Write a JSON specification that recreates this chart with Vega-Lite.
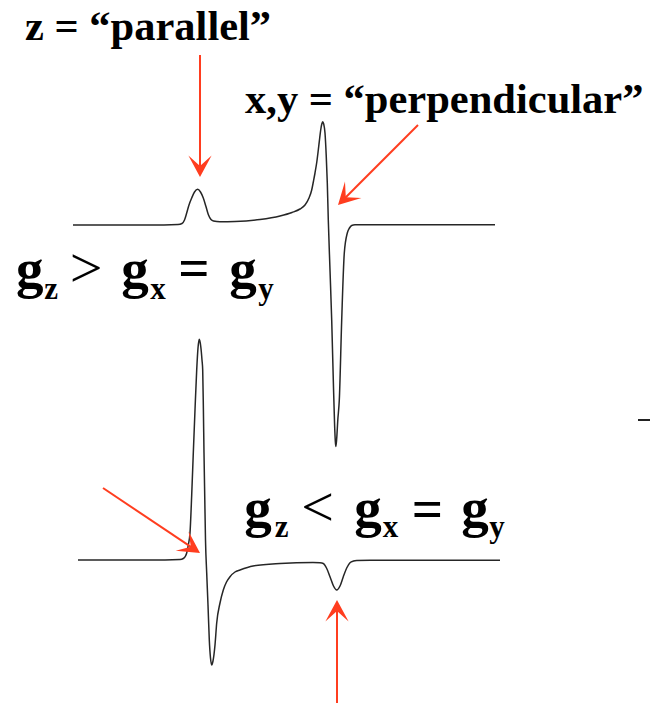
{
  "$schema": "https://vega.github.io/schema/vega-lite/v6.json",
  "width": 650,
  "height": 703,
  "autosize": {"type": "none"},
  "padding": 0,
  "background": "white",
  "config": {"view": {"stroke": null}},
  "datasets": {
    "spectra": [
      {"trace": "gz > gx = gy", "x": 73, "y": 225},
      {"trace": "gz > gx = gy", "x": 150, "y": 225},
      {"trace": "gz > gx = gy", "x": 178, "y": 224.5},
      {"trace": "gz > gx = gy", "x": 182, "y": 223.5},
      {"trace": "gz > gx = gy", "x": 184.5, "y": 220},
      {"trace": "gz > gx = gy", "x": 186.7, "y": 213},
      {"trace": "gz > gx = gy", "x": 189, "y": 205},
      {"trace": "gz > gx = gy", "x": 191.7, "y": 198},
      {"trace": "gz > gx = gy", "x": 194.5, "y": 192},
      {"trace": "gz > gx = gy", "x": 197.7, "y": 189.3},
      {"trace": "gz > gx = gy", "x": 200.5, "y": 192},
      {"trace": "gz > gx = gy", "x": 203.3, "y": 198},
      {"trace": "gz > gx = gy", "x": 205.8, "y": 206},
      {"trace": "gz > gx = gy", "x": 208.3, "y": 214.5},
      {"trace": "gz > gx = gy", "x": 211, "y": 219.5},
      {"trace": "gz > gx = gy", "x": 213.5, "y": 221},
      {"trace": "gz > gx = gy", "x": 220, "y": 221.8},
      {"trace": "gz > gx = gy", "x": 235, "y": 221.5},
      {"trace": "gz > gx = gy", "x": 260, "y": 219.5},
      {"trace": "gz > gx = gy", "x": 280, "y": 216},
      {"trace": "gz > gx = gy", "x": 292, "y": 212.5},
      {"trace": "gz > gx = gy", "x": 300, "y": 209},
      {"trace": "gz > gx = gy", "x": 305, "y": 205},
      {"trace": "gz > gx = gy", "x": 309, "y": 198},
      {"trace": "gz > gx = gy", "x": 311.7, "y": 190},
      {"trace": "gz > gx = gy", "x": 313.5, "y": 181},
      {"trace": "gz > gx = gy", "x": 315, "y": 173},
      {"trace": "gz > gx = gy", "x": 316.8, "y": 162},
      {"trace": "gz > gx = gy", "x": 318.3, "y": 150},
      {"trace": "gz > gx = gy", "x": 319.7, "y": 138},
      {"trace": "gz > gx = gy", "x": 320.7, "y": 130},
      {"trace": "gz > gx = gy", "x": 321.8, "y": 124},
      {"trace": "gz > gx = gy", "x": 322.7, "y": 121.7},
      {"trace": "gz > gx = gy", "x": 323.7, "y": 124},
      {"trace": "gz > gx = gy", "x": 325, "y": 133},
      {"trace": "gz > gx = gy", "x": 326.2, "y": 155},
      {"trace": "gz > gx = gy", "x": 327.3, "y": 183},
      {"trace": "gz > gx = gy", "x": 328.3, "y": 220},
      {"trace": "gz > gx = gy", "x": 330, "y": 270},
      {"trace": "gz > gx = gy", "x": 331.7, "y": 320},
      {"trace": "gz > gx = gy", "x": 333.3, "y": 380},
      {"trace": "gz > gx = gy", "x": 334.6, "y": 425},
      {"trace": "gz > gx = gy", "x": 335.3, "y": 441},
      {"trace": "gz > gx = gy", "x": 335.8, "y": 446.5},
      {"trace": "gz > gx = gy", "x": 336.6, "y": 440},
      {"trace": "gz > gx = gy", "x": 337.8, "y": 420},
      {"trace": "gz > gx = gy", "x": 339.3, "y": 400},
      {"trace": "gz > gx = gy", "x": 341.7, "y": 320},
      {"trace": "gz > gx = gy", "x": 344.3, "y": 253},
      {"trace": "gz > gx = gy", "x": 347.3, "y": 233},
      {"trace": "gz > gx = gy", "x": 349.5, "y": 228},
      {"trace": "gz > gx = gy", "x": 351.7, "y": 225.5},
      {"trace": "gz > gx = gy", "x": 355, "y": 224.8},
      {"trace": "gz > gx = gy", "x": 365, "y": 224.7},
      {"trace": "gz > gx = gy", "x": 495, "y": 224.7},
      {"trace": "gz < gx = gy", "x": 78, "y": 560},
      {"trace": "gz < gx = gy", "x": 150, "y": 560},
      {"trace": "gz < gx = gy", "x": 180, "y": 559.5},
      {"trace": "gz < gx = gy", "x": 183.3, "y": 558.5},
      {"trace": "gz < gx = gy", "x": 185.5, "y": 556},
      {"trace": "gz < gx = gy", "x": 186.7, "y": 553},
      {"trace": "gz < gx = gy", "x": 188.3, "y": 545},
      {"trace": "gz < gx = gy", "x": 190, "y": 533},
      {"trace": "gz < gx = gy", "x": 191.7, "y": 495},
      {"trace": "gz < gx = gy", "x": 193.3, "y": 453},
      {"trace": "gz < gx = gy", "x": 195, "y": 410},
      {"trace": "gz < gx = gy", "x": 196.7, "y": 370},
      {"trace": "gz < gx = gy", "x": 198, "y": 348},
      {"trace": "gz < gx = gy", "x": 199.3, "y": 339.3},
      {"trace": "gz < gx = gy", "x": 200.7, "y": 346},
      {"trace": "gz < gx = gy", "x": 202, "y": 360},
      {"trace": "gz < gx = gy", "x": 202.7, "y": 370},
      {"trace": "gz < gx = gy", "x": 203.4, "y": 410},
      {"trace": "gz < gx = gy", "x": 204, "y": 453},
      {"trace": "gz < gx = gy", "x": 204.8, "y": 500},
      {"trace": "gz < gx = gy", "x": 205.5, "y": 540},
      {"trace": "gz < gx = gy", "x": 206.7, "y": 573},
      {"trace": "gz < gx = gy", "x": 208, "y": 605},
      {"trace": "gz < gx = gy", "x": 209.3, "y": 640},
      {"trace": "gz < gx = gy", "x": 210.5, "y": 658},
      {"trace": "gz < gx = gy", "x": 211.7, "y": 665},
      {"trace": "gz < gx = gy", "x": 213, "y": 661},
      {"trace": "gz < gx = gy", "x": 215, "y": 645},
      {"trace": "gz < gx = gy", "x": 216.7, "y": 623},
      {"trace": "gz < gx = gy", "x": 220, "y": 603},
      {"trace": "gz < gx = gy", "x": 223.3, "y": 590},
      {"trace": "gz < gx = gy", "x": 226.5, "y": 582},
      {"trace": "gz < gx = gy", "x": 230, "y": 576.7},
      {"trace": "gz < gx = gy", "x": 235, "y": 572},
      {"trace": "gz < gx = gy", "x": 240, "y": 570},
      {"trace": "gz < gx = gy", "x": 253, "y": 566},
      {"trace": "gz < gx = gy", "x": 280, "y": 563.5},
      {"trace": "gz < gx = gy", "x": 313, "y": 562.5},
      {"trace": "gz < gx = gy", "x": 320, "y": 562.8},
      {"trace": "gz < gx = gy", "x": 323.3, "y": 563.5},
      {"trace": "gz < gx = gy", "x": 326.5, "y": 568},
      {"trace": "gz < gx = gy", "x": 330, "y": 576.7},
      {"trace": "gz < gx = gy", "x": 333.5, "y": 586},
      {"trace": "gz < gx = gy", "x": 336.7, "y": 590},
      {"trace": "gz < gx = gy", "x": 340, "y": 586},
      {"trace": "gz < gx = gy", "x": 343.3, "y": 576.7},
      {"trace": "gz < gx = gy", "x": 346.7, "y": 568},
      {"trace": "gz < gx = gy", "x": 350, "y": 562.7},
      {"trace": "gz < gx = gy", "x": 353.5, "y": 561},
      {"trace": "gz < gx = gy", "x": 356.7, "y": 560.5},
      {"trace": "gz < gx = gy", "x": 370, "y": 560.3},
      {"trace": "gz < gx = gy", "x": 500, "y": 560.3}
    ],
    "arrows": [
      {"target": "z parallel", "x": 200, "y": 55, "x2": 200, "y2": 177},
      {"target": "x,y perpendicular", "x": 418, "y": 125, "x2": 338, "y2": 205},
      {"target": "lower perpendicular", "x": 103, "y": 488, "x2": 200, "y2": 553},
      {"target": "lower parallel", "x": 337, "y": 703, "x2": 337, "y2": 600}
    ],
    "labels": [
      {"text": "z = \u201cparallel\u201d", "x": 25, "y": 40},
      {"text": "x,y = \u201cperpendicular\u201d", "x": 245, "y": 113}
    ],
    "glyphs": [
      {"text": "g", "x": 29.7, "y": 287},
      {"text": "g", "x": 135, "y": 287},
      {"text": "=", "x": 194, "y": 286},
      {"text": "g", "x": 243, "y": 287},
      {"text": "g", "x": 258, "y": 526},
      {"text": "g", "x": 368, "y": 526},
      {"text": "=", "x": 427.5, "y": 527},
      {"text": "g", "x": 475, "y": 526}
    ],
    "relations": [
      {"text": ">", "x": 86, "y": 287},
      {"text": "<", "x": 317.5, "y": 526}
    ],
    "subscripts": [
      {"text": "z", "x": 51, "y": 299},
      {"text": "x", "x": 158, "y": 299},
      {"text": "y", "x": 266, "y": 299},
      {"text": "z", "x": 281.5, "y": 537},
      {"text": "x", "x": 390.5, "y": 537},
      {"text": "y", "x": 497, "y": 537}
    ],
    "edge": [
      {"x": 638, "x2": 650, "y": 420}
    ]
  },
  "layer": [
    {
      "data": {"name": "spectra"},
      "mark": {"type": "line", "interpolate": "monotone", "color": "#262626", "strokeWidth": 1.5},
      "encoding": {
        "x": {"field": "x", "type": "quantitative", "scale": {"domain": [0, 650]}, "axis": null},
        "y": {"field": "y", "type": "quantitative", "scale": {"domain": [0, 703], "reverse": true}, "axis": null},
        "detail": {"field": "trace"}
      }
    },
    {
      "data": {"name": "edge"},
      "mark": {"type": "rule", "color": "#222222", "strokeWidth": 2},
      "encoding": {
        "x": {"field": "x", "type": "quantitative", "scale": {"domain": [0, 650]}, "axis": null},
        "x2": {"field": "x2"},
        "y": {"field": "y", "type": "quantitative", "scale": {"domain": [0, 703], "reverse": true}, "axis": null}
      }
    },
    {
      "data": {"name": "arrows"},
      "transform": [
        {"calculate": "sqrt(pow(datum.x2 - datum.x, 2) + pow(datum.y2 - datum.y, 2))", "as": "len"},
        {"calculate": "datum.x2 - (datum.x2 - datum.x) / datum.len * 10", "as": "bx"},
        {"calculate": "datum.y2 - (datum.y2 - datum.y) / datum.len * 10", "as": "by"}
      ],
      "mark": {"type": "rule", "color": "#ff3d1f", "strokeWidth": 2},
      "encoding": {
        "x": {"field": "x", "type": "quantitative", "scale": {"domain": [0, 650]}, "axis": null},
        "y": {"field": "y", "type": "quantitative", "scale": {"domain": [0, 703], "reverse": true}, "axis": null},
        "x2": {"field": "bx"},
        "y2": {"field": "by"}
      }
    },
    {
      "data": {"name": "arrows"},
      "transform": [
        {"calculate": "atan2(datum.x2 - datum.x, -(datum.y2 - datum.y)) * 180 / PI", "as": "heading"}
      ],
      "mark": {"type": "point", "shape": "M0,0 L1,1.85 L0,0.95 L-1,1.85 Z", "filled": true, "color": "#ff3d1f", "opacity": 1, "size": 540, "strokeWidth": 0},
      "encoding": {
        "x": {"field": "x2", "type": "quantitative", "scale": {"domain": [0, 650]}, "axis": null},
        "y": {"field": "y2", "type": "quantitative", "scale": {"domain": [0, 703], "reverse": true}, "axis": null},
        "angle": {"field": "heading", "type": "quantitative", "scale": null}
      }
    },
    {
      "data": {"name": "labels"},
      "mark": {"type": "text", "font": "Liberation Serif", "fontWeight": "bold", "fontSize": 42.5, "align": "left", "baseline": "alphabetic", "color": "#000000"},
      "encoding": {
        "x": {"field": "x", "type": "quantitative", "scale": {"domain": [0, 650]}, "axis": null},
        "y": {"field": "y", "type": "quantitative", "scale": {"domain": [0, 703], "reverse": true}, "axis": null},
        "text": {"field": "text"}
      }
    },
    {
      "data": {"name": "glyphs"},
      "mark": {"type": "text", "font": "Liberation Serif", "fontWeight": "bold", "fontSize": 55, "align": "center", "baseline": "alphabetic", "color": "#000000"},
      "encoding": {
        "x": {"field": "x", "type": "quantitative", "scale": {"domain": [0, 650]}, "axis": null},
        "y": {"field": "y", "type": "quantitative", "scale": {"domain": [0, 703], "reverse": true}, "axis": null},
        "text": {"field": "text"}
      }
    },
    {
      "data": {"name": "relations"},
      "mark": {"type": "text", "font": "Liberation Serif", "fontWeight": "normal", "fontSize": 58, "align": "center", "baseline": "alphabetic", "color": "#000000"},
      "encoding": {
        "x": {"field": "x", "type": "quantitative", "scale": {"domain": [0, 650]}, "axis": null},
        "y": {"field": "y", "type": "quantitative", "scale": {"domain": [0, 703], "reverse": true}, "axis": null},
        "text": {"field": "text"}
      }
    },
    {
      "data": {"name": "subscripts"},
      "mark": {"type": "text", "font": "Liberation Serif", "fontWeight": "bold", "fontSize": 31, "align": "center", "baseline": "alphabetic", "color": "#000000"},
      "encoding": {
        "x": {"field": "x", "type": "quantitative", "scale": {"domain": [0, 650]}, "axis": null},
        "y": {"field": "y", "type": "quantitative", "scale": {"domain": [0, 703], "reverse": true}, "axis": null},
        "text": {"field": "text"}
      }
    }
  ]
}
